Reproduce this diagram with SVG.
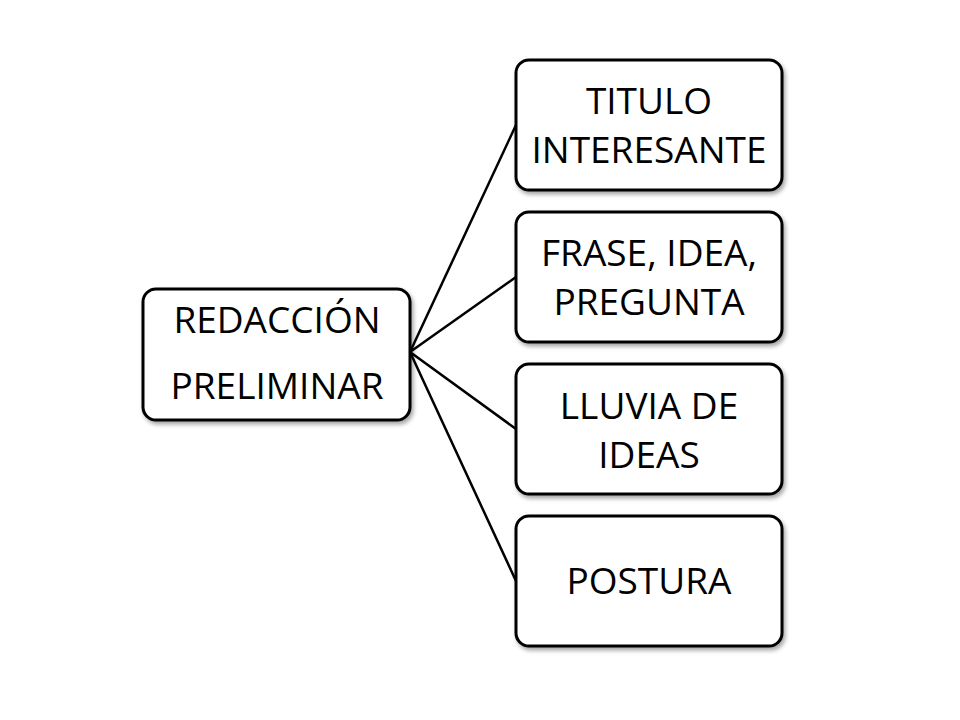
<svg xmlns="http://www.w3.org/2000/svg" width="960" height="720" viewBox="0 0 960 720">
<defs>
<filter id="sh" x="-10%" y="-10%" width="120%" height="120%"><feDropShadow dx="2" dy="3" stdDeviation="2" flood-color="#000" flood-opacity="0.35"/></filter>
</defs>
<style>
.box{fill:#fff;stroke:#000;stroke-width:3;filter:url(#sh)}
.t{font-family:"Open Sans","Liberation Sans",sans-serif;font-size:37px;fill:#000;text-anchor:middle}
.c{stroke:#000;stroke-width:2.5;fill:none}
</style>
<rect width="960" height="720" fill="#fff"/>
<g id="connectors">
<line class="c" x1="410" y1="352" x2="516" y2="125"/>
<line class="c" x1="410" y1="352" x2="516" y2="277"/>
<line class="c" x1="410" y1="352" x2="516" y2="429"/>
<line class="c" x1="410" y1="352" x2="516" y2="581"/>
</g>
<g id="root"><rect class="box" x="143" y="289" width="267" height="131" rx="13"/>
<text class="t" x="277" y="333">REDACCIÓN</text><text class="t" x="277" y="399">PRELIMINAR</text></g>
<g id="n1"><rect class="box" x="516" y="60" width="266" height="130" rx="13"/>
<text class="t" x="649" y="114">TITULO</text><text class="t" x="649" y="163">INTERESANTE</text></g>
<g id="n2"><rect class="box" x="516" y="212" width="266" height="130" rx="13"/>
<text class="t" x="649" y="266">FRASE, IDEA,</text><text class="t" x="649" y="315">PREGUNTA</text></g>
<g id="n3"><rect class="box" x="516" y="364" width="266" height="130" rx="13"/>
<text class="t" x="649" y="419">LLUVIA DE</text><text class="t" x="649" y="468">IDEAS</text></g>
<g id="n4"><rect class="box" x="516" y="516" width="266" height="130" rx="13"/>
<text class="t" x="649" y="594">POSTURA</text></g>
</svg>
